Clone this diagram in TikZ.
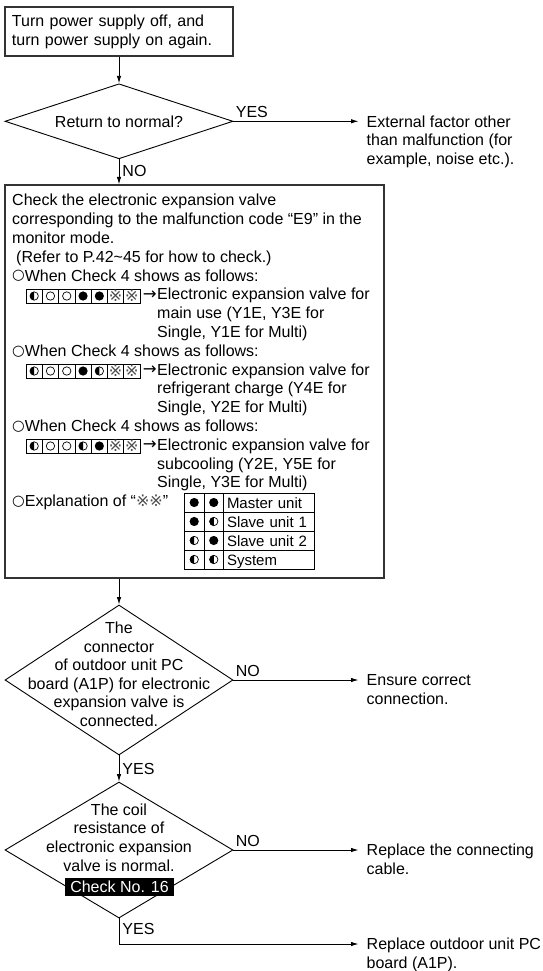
\documentclass[tikz,border=0pt]{standalone}
\usepackage{fontspec}
\setmainfont{Liberation Sans}
\newfontfamily\symfont{DejaVu Sans}
\usetikzlibrary{arrows.meta,shapes.geometric}
\newcommand{\flowfont}{\fontsize{16}{18.8}\selectfont}
\newcommand{\tablefont}{\fontsize{15}{18}\selectfont}
\newcommand{\refsize}{\symfont\fontsize{16}{16}\selectfont}
\newcommand{\opencirc}{\raisebox{1.2pt}{\symfont\fontsize{14.5}{14.5}\selectfont ○}}
\newcommand{\toarrow}{{\symfont\fontsize{16.5}{16.5}\selectfont →}}
\tikzset{
  box/.style={draw=black!80, line width=1.2pt, inner sep=0pt},
  decision/.style={draw, diamond, line width=0.9pt, inner sep=0pt, minimum width=228pt},
  txt/.style={inner sep=0pt, align=left, anchor=north west, font=\flowfont},
  outtxt/.style={txt, inner xsep=8pt},
  lbl/.style={inner sep=0pt, font=\flowfont},
  flow/.style={-{Latex[length=7.5pt,width=4.5pt]}, line width=0.9pt},
  led/.style={draw, line width=0.8pt, minimum width=16.3pt, minimum height=14pt, inner sep=0pt},
  cell/.style={draw, line width=0.9pt, minimum height=19pt, inner sep=0pt},
  ledf/.pic={\fill (0pt,0pt) circle (4.6pt);},
  ledo/.pic={\draw[line width=0.7pt] (0pt,0pt) circle (4.2pt);},
  ledh/.pic={\draw[line width=0.7pt] (0pt,0pt) circle (4.2pt);
    \fill (0pt,4.2pt) arc[start angle=90,end angle=270,radius=4.2pt] -- cycle;},
  ledr/.pic={\node[inner sep=0pt, text=black!70, font=\refsize] (m) {※};},
}

\begin{document}
\begin{tikzpicture}[x=1pt,y=-1pt]
  \path[use as bounding box, fill=white] (0,0) rectangle (542,971);
  % Start
  \node[box, text width=214pt, inner xsep=7pt, minimum height=49pt, align=left, font=\flowfont]
    (start) at (119,31.5) {Turn power supply off, and\\turn power supply on again.};
  % First check
  \node[decision, minimum height=75pt] (ret) at (119,121.3) {};
  \node[lbl] (retq) at (ret) {Return to normal?};
  \node[outtxt] (ext) at (358.5,115.3) {External factor other\\than malfunction (for\\example, noise etc.).};
  % Monitor mode box
  \node[box, minimum width=379pt, minimum height=393pt] (check) at (194.5,381.5) {};
  \node[txt] (intro) at (12,194.2) {Check the electronic expansion valve\\corresponding to the malfunction code “E9” in the\\monitor mode.\\\hspace*{4pt}(Refer to P.42\textasciitilde45 for how to check.)\\\opencirc When Check 4 shows as follows:};
  \foreach \s [count=\i] in {h,o,o,f,f,r,r} {
    \node[led] (a\i) at (17.85+16.3*\i,296) {};
    \pic at (a\i) {led\s};
  }
  \node[lbl, anchor=east] (to1) at (157,295) {\toarrow};
  \node[txt] (eev1) at (157,288.2) {Electronic expansion valve for\\main use (Y1E, Y3E for\\Single, Y1E for Multi)};
  \node[txt] (when2) at (12,344.6) {\opencirc When Check 4 shows as follows:};
  \foreach \s [count=\i] in {h,o,o,f,h,r,r} {
    \node[led] (b\i) at (17.85+16.3*\i,371) {};
    \pic at (b\i) {led\s};
  }
  \node[lbl, anchor=east] (to2) at (157,370.2) {\toarrow};
  \node[txt] (eev2) at (157,363.4) {Electronic expansion valve for\\refrigerant charge (Y4E for\\Single, Y2E for Multi)};
  \node[txt] (when3) at (12,419.8) {\opencirc When Check 4 shows as follows:};
  \foreach \s [count=\i] in {h,o,o,h,f,r,r} {
    \node[led] (c\i) at (17.85+16.3*\i,446) {};
    \pic at (c\i) {led\s};
  }
  \node[lbl, anchor=east] (to3) at (157,445.4) {\toarrow};
  \node[txt] (eev3) at (157,438.6) {Electronic expansion valve for\\subcooling (Y2E, Y5E for\\Single, Y3E for Multi)};
  \node[txt] (expl) at (12,495) {\opencirc Explanation of “{\color{black!70}\refsize ※※}”};
  % Table of units
  \foreach \p/\q/\u [count=\k] in {f/f/Master unit,f/h/Slave unit 1,h/f/Slave unit 2,h/h/System} {
    \node[cell, minimum width=19.6pt] (ta\k) at (194.2,483.5+19*\k) {};
    \node[cell, minimum width=19.5pt] (tb\k) at (213.75,483.5+19*\k) {};
    \node[cell, inner xsep=3.5pt, text width=83.5pt, align=left, font=\tablefont,
      text height=11pt, text depth=0pt] (tc\k) at (268.75,483.5+19*\k) {\u};
    \pic at (ta\k) {led\p};
    \pic at (tb\k) {led\q};
  }
  % Connector check
  \node[decision, minimum height=150pt] (conn) at (119,680) {};
  \node[lbl, align=center, font=\fontsize{16}{18.6}\selectfont] (connq) at (119,674.2)
    {The\\connector\\of outdoor unit PC\\board (A1P) for electronic\\expansion valve is\\connected.};
  \node[outtxt] (fix) at (358.5,674) {Ensure correct\\connection.};
  % Coil check
  \node[decision, minimum height=136pt] (valv) at (119,850) {};
  \node[lbl, align=center] (valvq) at (119,837.5)
    {The coil\\resistance of\\electronic expansion\\valve is normal.};
  \node[lbl, fill=black, text=white, minimum width=109pt, minimum height=18pt] (chk) at (119.5,887) {Check No. 16};
  \node[outtxt] (cable) at (358.5,844) {Replace the connecting\\cable.};
  \node[outtxt] (board) at (358.5,938) {Replace outdoor unit PC\\board (A1P).};
  % Arrows
  \draw[flow] (start.south) -- (ret.north);
  \draw[flow] (ret.east) -- node[lbl, pos=0, anchor=south west, xshift=2pt, yshift=3pt] (yes1) {YES} (ret.east -| ext.west);
  \draw[flow] (ret.south) -- node[lbl, pos=0.45, anchor=west, xshift=3pt] (no1) {NO} (ret.south |- check.north);
  \draw[flow] (check.south -| conn.north) -- (conn.north);
  \draw[flow] (conn.east) -- node[lbl, pos=0, anchor=south west, xshift=2pt, yshift=3pt] (no2) {NO} (conn.east -| fix.west);
  \draw[flow] (conn.south) -- node[lbl, pos=0.5, anchor=west, xshift=3pt] (yes2) {YES} (valv.north);
  \draw[flow] (valv.east) -- node[lbl, pos=0, anchor=south west, xshift=2pt, yshift=3pt] (no3) {NO} (valv.east -| cable.west);
  \draw[flow] (valv.south) |- node[lbl, pos=0.2, anchor=west, xshift=3pt] (yes3) {YES} ([yshift=-6pt]board.north west);
\end{tikzpicture}
\end{document}
